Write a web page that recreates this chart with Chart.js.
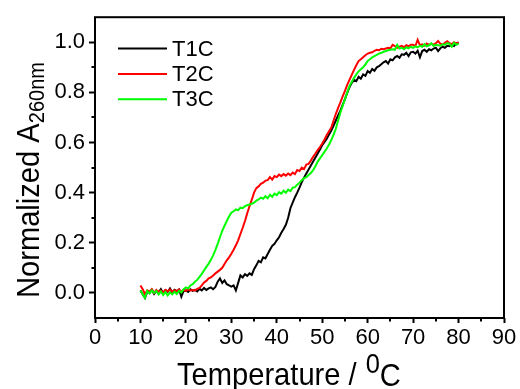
<!DOCTYPE html>
<html><head><meta charset="utf-8">
<script src="https://cdn.jsdelivr.net/npm/chart.js@4"></script>
<style>html,body{margin:0;padding:0;background:#fff}#wrap{width:520px;height:389px}</style>
</head><body><div id="wrap"><canvas id="c" width="520" height="389"></canvas></div>
<script>
const temps = [
10,10.5,11,11.5,12,12.5,13,13.5,14,14.5,15,15.5,16,16.5,17,17.5,18,18.5,19,19.5,
20,20.5,21,21.5,22,22.5,23,23.5,24,24.5,25,25.5,26,26.5,27,27.5,28,28.5,29,29.5,
30,30.5,31,31.5,32,32.5,33,33.5,34,34.5,35,35.5,36,36.5,37,37.5,38,38.5,39,39.5,
40,40.5,41,41.5,42,42.5,43,43.5,44,44.5,45,45.5,46,46.5,47,47.5,48,48.5,49,49.5,
50,50.5,51,51.5,52,52.5,53,53.5,54,54.5,55,55.5,56,56.5,57,57.5,58,58.5,59,59.5,
60,60.5,61,61.5,62,62.5,63,63.5,64,64.5,65,65.5,66,66.5,67,67.5,68,68.5,69,69.5,
70,70.5,71,71.5,72,72.5,73,73.5,74,74.5,75,75.5,76,76.5,77,77.5,78,78.5,79,79.5,
80];
const t1c = [
0.010,-0.005,-0.020,0.005,0.000,0.012,-0.004,0.008,0.002,0.015,0.000,0.010,0.004,0.018,0.002,0.012,0.006,0.014,-0.015,0.008,
0.010,0.004,0.014,0.008,0.012,0.006,0.016,0.010,0.020,0.012,0.018,0.022,0.015,0.024,0.045,0.058,0.040,0.050,0.035,0.030,
0.025,0.030,0.010,0.040,0.070,0.062,0.075,0.068,0.078,0.072,0.095,0.110,0.128,0.122,0.142,0.138,0.155,0.172,0.188,0.196,
0.210,0.222,0.240,0.255,0.272,0.300,0.338,0.360,0.382,0.400,0.420,0.442,0.460,0.476,0.492,0.508,0.524,0.540,0.556,0.572,
0.590,0.602,0.615,0.632,0.648,0.668,0.688,0.708,0.727,0.750,0.773,0.798,0.820,0.838,0.850,0.845,0.862,0.855,0.872,0.866,
0.885,0.878,0.893,0.886,0.900,0.905,0.912,0.920,0.925,0.915,0.932,0.928,0.940,0.945,0.938,0.952,0.950,0.958,0.945,0.960,
0.962,0.955,0.966,0.940,0.965,0.970,0.962,0.972,0.968,0.975,0.978,0.965,0.976,0.982,0.978,0.986,0.984,0.990,0.985,0.995,
1.000];
const t2c = [
0.030,0.015,-0.005,0.010,0.005,0.015,0.000,0.012,0.004,0.010,0.002,0.012,0.006,0.014,0.004,0.010,0.008,0.014,0.005,0.012,
0.008,0.014,0.010,0.012,0.010,0.016,0.020,0.030,0.042,0.048,0.058,0.062,0.070,0.078,0.085,0.092,0.100,0.115,0.130,0.142,
0.156,0.172,0.190,0.210,0.235,0.260,0.287,0.318,0.346,0.372,0.400,0.418,0.425,0.435,0.440,0.448,0.450,0.462,0.452,0.466,
0.462,0.472,0.466,0.474,0.468,0.476,0.470,0.480,0.474,0.490,0.486,0.500,0.494,0.512,0.515,0.528,0.543,0.556,0.570,0.582,
0.596,0.612,0.630,0.645,0.660,0.688,0.714,0.738,0.760,0.784,0.806,0.830,0.850,0.870,0.890,0.908,0.925,0.932,0.940,0.948,
0.955,0.958,0.960,0.966,0.970,0.968,0.974,0.972,0.975,0.978,0.976,0.990,0.985,0.978,0.982,0.986,0.980,0.988,0.984,0.990,
0.990,0.985,1.010,0.988,0.992,0.986,0.995,0.990,0.994,0.990,0.996,1.005,0.994,0.990,0.998,1.004,0.996,0.992,1.000,0.995,
1.000];
const t3c = [
0.010,-0.005,-0.020,0.008,-0.002,0.010,0.000,0.008,-0.006,0.006,-0.008,0.004,-0.010,0.002,-0.006,0.005,-0.004,0.008,0.002,0.015,
0.022,0.018,0.030,0.035,0.045,0.052,0.064,0.076,0.090,0.104,0.117,0.132,0.150,0.172,0.196,0.222,0.248,0.268,0.287,0.305,
0.320,0.326,0.333,0.330,0.340,0.338,0.346,0.350,0.353,0.356,0.360,0.368,0.373,0.380,0.376,0.386,0.378,0.392,0.384,0.396,
0.390,0.402,0.396,0.408,0.400,0.412,0.406,0.420,0.422,0.432,0.440,0.450,0.458,0.462,0.470,0.478,0.490,0.505,0.524,0.537,
0.550,0.563,0.576,0.592,0.610,0.632,0.655,0.688,0.720,0.746,0.773,0.800,0.825,0.842,0.858,0.872,0.884,0.892,0.900,0.912,
0.925,0.932,0.940,0.945,0.950,0.955,0.958,0.962,0.965,0.968,0.970,0.972,0.970,0.990,0.975,0.978,0.972,0.980,0.976,0.982,
0.978,0.984,0.980,0.986,0.982,0.992,0.984,0.988,0.996,0.985,0.990,0.988,0.986,0.992,0.990,0.996,0.994,0.982,0.998,0.990,
0.995];
const seriesNames = ['T1C','T2C','T3C'];
const seriesColors = ['#000000','#ff0000','#00ff00'];
const xTicks = [0,10,20,30,40,50,60,70,80,90];
const xMinor = [5,15,25,35,45,55,65,75,85];
const yTicks = [0.0,0.2,0.4,0.6,0.8,1.0];
const yMinor = [0.1,0.3,0.5,0.7,0.9];

const FONT = "'Liberation Sans', Arial, sans-serif";
const seriesValues = [t1c, t2c, t3c];

const framePlugin = {
  id: 'frame',
  afterDraw(chart) {
    const ctx = chart.ctx, a = chart.chartArea;
    const xs = chart.scales.x, ys = chart.scales.y;
    ctx.save();
    ctx.strokeStyle = '#000';
    ctx.lineWidth = 2;
    ctx.strokeRect(a.left, a.top, a.right - a.left, a.bottom - a.top);
    ctx.beginPath();
    xMinor.forEach(v => { const px = Math.round(xs.getPixelForValue(v)); ctx.moveTo(px, a.bottom); ctx.lineTo(px, a.bottom + 3.5); });
    yMinor.forEach(v => { const py = Math.round(ys.getPixelForValue(v)); ctx.moveTo(a.left, py); ctx.lineTo(a.left - 3.5, py); });
    ctx.stroke();
    chart.data.datasets.forEach((ds, i) => {
      const ly = 48.5 + i * 25.4;
      ctx.strokeStyle = ds.borderColor;
      ctx.lineWidth = 2;
      ctx.beginPath(); ctx.moveTo(118, ly); ctx.lineTo(167, ly); ctx.stroke();
      ctx.fillStyle = '#000';
      ctx.font = '22px ' + FONT;
      ctx.textBaseline = 'alphabetic';
      ctx.textAlign = 'left';
      ctx.fillText(ds.label, 172, 55.5 + i * 25.4);
    });
    ctx.fillStyle = '#000';
    ctx.textBaseline = 'alphabetic';
    ctx.textAlign = 'left';
    const sx = 0.91;
    ctx.save();
    ctx.translate(177, 385);
    ctx.scale(sx, 1);
    ctx.font = '32px ' + FONT;
    const p1 = 'Temperature / ';
    ctx.fillText(p1, 0, 0);
    let w = ctx.measureText(p1).width + 1;
    ctx.font = '28px ' + FONT;
    ctx.fillText('0', w, -12);
    w += ctx.measureText('0').width;
    ctx.font = '32px ' + FONT;
    ctx.fillText('C', w, 1);
    ctx.restore();
    ctx.save();
    ctx.translate(39, 298);
    ctx.rotate(-Math.PI / 2);
    ctx.scale(sx, 1);
    ctx.font = '32px ' + FONT;
    const m = 'Normalized A';
    ctx.fillText(m, 0, 0);
    const mw = ctx.measureText(m).width;
    ctx.font = '22px ' + FONT;
    ctx.fillText('260nm', mw, 5);
    ctx.restore();
    ctx.restore();
  }
};

new Chart(document.getElementById('c'), {
  type: 'line',
  data: {
    datasets: seriesNames.map((name, i) => ({
      label: name,
      data: temps.map((t, j) => ({ x: t, y: seriesValues[i][j] })),
      borderColor: seriesColors[i],
      backgroundColor: seriesColors[i],
      borderWidth: 2,
      pointRadius: 0,
      tension: 0,
      fill: false,
      order: 2 - i
    }))
  },
  options: {
    responsive: false,
    animation: false,
    events: [],
    layout: { padding: { top: 14, right: 16, left: 0, bottom: 0 } },
    plugins: { legend: { display: false }, tooltip: { enabled: false } },
    scales: {
      x: {
        type: 'linear', min: 0, max: 90,
        afterBuildTicks: s => { s.ticks = xTicks.map(v => ({ value: v })); },
        afterFit: s => { s.height = 71; },
        border: { display: false },
        grid: { drawOnChartArea: false, drawTicks: true, tickLength: 5, tickWidth: 2, tickColor: '#000' },
        ticks: { color: '#000', font: { family: FONT, size: 22 }, padding: 2, maxRotation: 0, autoSkip: false }
      },
      y: {
        type: 'linear', min: -0.1, max: 1.1,
        afterBuildTicks: s => { s.ticks = yTicks.map(v => ({ value: v })); },
        afterFit: s => { s.width = 95; },
        border: { display: false },
        grid: { drawOnChartArea: false, drawTicks: true, tickLength: 6, tickWidth: 2, tickColor: '#000' },
        ticks: { color: '#000', font: { family: FONT, size: 22 }, padding: 4, autoSkip: false,
          callback: v => v.toFixed(1) }
      }
    }
  },
  plugins: [framePlugin]
});
</script>
</body></html>
